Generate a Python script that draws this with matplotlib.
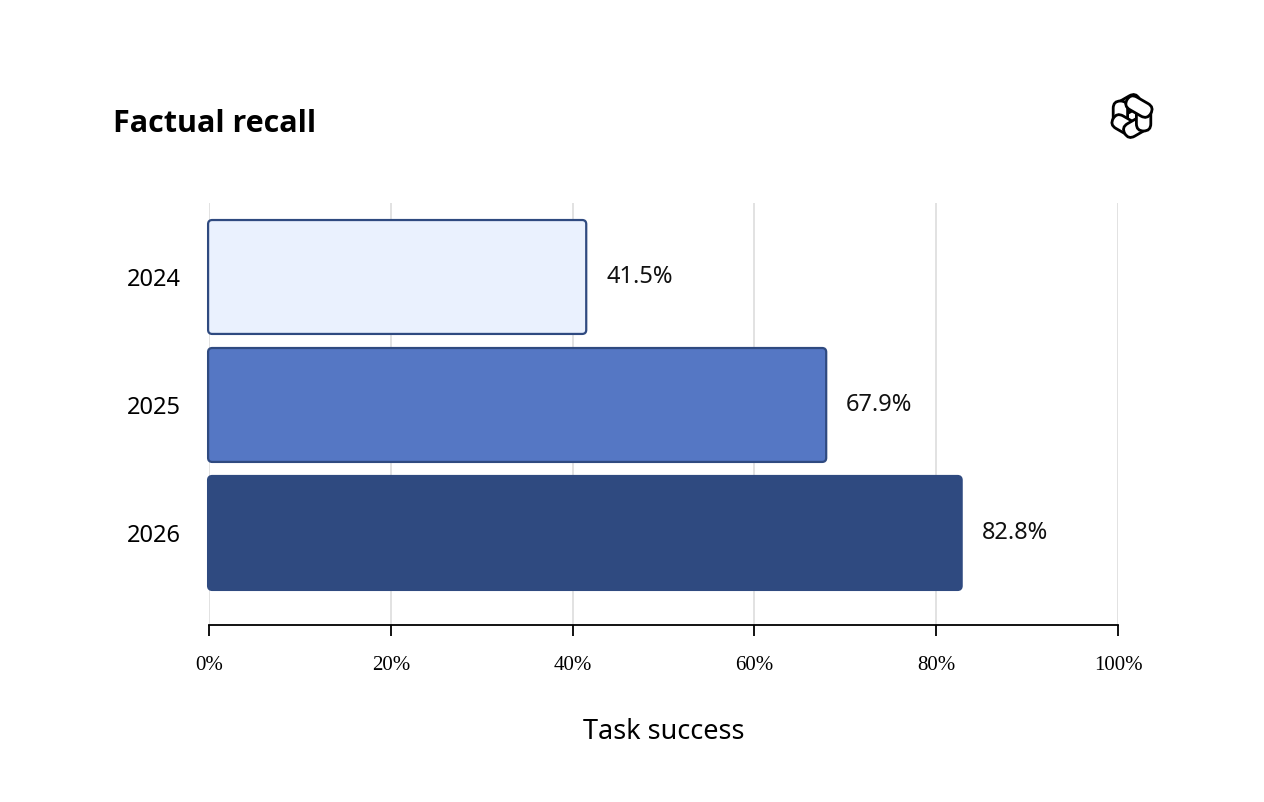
import matplotlib
matplotlib.use("Agg")
import matplotlib.pyplot as plt
from matplotlib.patches import FancyBboxPatch
import matplotlib.transforms as mtransforms
import numpy as np

categories = ["2024", "2025", "2026"]
values = [41.5, 67.9, 82.8]
value_labels = ["41.5%", "67.9%", "82.8%"]
xticks = [0, 20, 40, 60, 80, 100]
xtick_labels = ["0%", "20%", "40%", "60%", "80%", "100%"]
bar_colors = ["#EAF1FE", "#5577C4", "#2F4A80"]
edge_color = "#2F4A80"

SANS = ["Noto Sans", "DejaVu Sans"]

fig = plt.figure(figsize=(12.64, 8.02), dpi=100)
ax = fig.add_axes([209/1264, 177/802, 909/1264, 422/802])

y = np.arange(len(categories))
bars = ax.barh(y, values, height=0.89, color="none", edgecolor="none")
for b, c in zip(bars, bar_colors):
    x0, y0 = b.get_x(), b.get_y()
    w, h = b.get_width(), b.get_height()
    p = FancyBboxPatch((x0 - 0.1, y0), w + 0.1, h,
                       boxstyle="round,pad=0,rounding_size=0.45",
                       mutation_aspect=0.032 / 0.45,
                       facecolor=c, edgecolor=edge_color, linewidth=1.6,
                       zorder=3, clip_on=False)
    ax.add_patch(p)
    b.remove()

for yi, v, lab in zip(y, values, value_labels):
    ax.text(v + 2.2, yi, lab, va="center", ha="left", fontsize=17,
            family=SANS, color="#111111")

ax.set_xlim(0, 100)
ax.set_ylim(2.719, -0.578)
ax.set_yticks(y)
ax.set_yticklabels(categories, family=SANS, fontsize=17)
ax.tick_params(axis="y", length=0, pad=20)
ax.set_xticks(xticks)
ax.set_xticklabels(xtick_labels, family=["Liberation Serif"], fontsize=15)
ax.tick_params(axis="x", length=8, width=1.3, color="black", pad=14, direction="out")
ax.grid(axis="x", color="#DDDDDD", linewidth=1.2, zorder=0)
ax.set_axisbelow(True)
for s in ["top", "right", "left"]:
    ax.spines[s].set_visible(False)
ax.spines["bottom"].set_linewidth(1.3)
ax.spines["bottom"].set_color("black")

ax.set_xlabel("Task success", family=SANS, fontsize=19.5, labelpad=31)

fig.text(113/1264, 1 - 132/802, "Factual recall", family=["Open Sans", "DejaVu Sans"],
         fontsize=22, fontweight="bold", ha="left", va="baseline")

# logo (approximation of the mark)
lax = fig.add_axes([(1132-24)/1264, 1-(116+24)/802, 48/1264, 48/802])
lax.set_xlim(-1.2, 1.2)
lax.set_ylim(-1.2, 1.2)
lax.set_aspect("equal")
lax.axis("off")
for k in range(6):
    ang = k * 60 + 30
    tr = mtransforms.Affine2D().rotate_deg(ang) + lax.transData
    p = FancyBboxPatch((-0.62, 0.22), 1.37, 0.72,
                       boxstyle="round,pad=0,rounding_size=0.36",
                       facecolor="white", edgecolor="black", linewidth=2.0,
                       transform=tr, zorder=2 + k)
    lax.add_patch(p)

fig.savefig("out.png", dpi=100, facecolor="white")
